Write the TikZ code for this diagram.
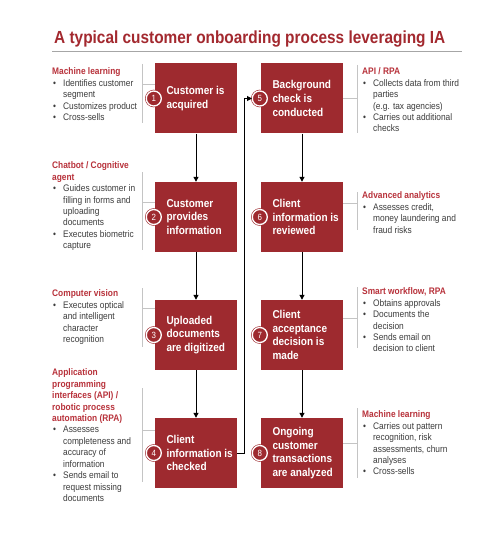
\documentclass[tikz,border=0pt]{standalone}
\usepackage{fontspec}
\setmainfont{Liberation Sans}[FakeStretch=0.88]
\usetikzlibrary{arrows.meta}
\definecolor{boxred}{HTML}{9E2A2F}
\definecolor{titlered}{HTML}{A3292F}
\definecolor{headred}{HTML}{B8323B}
\definecolor{bodygrey}{HTML}{3C3C3C}
\definecolor{linegrey}{HTML}{C4C4C4}
\definecolor{rulegrey}{HTML}{A6A6A6}
\newcommand\hd[1]{\textcolor{headred}{\bfseries #1}}
\newcommand\bl{\makebox[11pt][l]{\hspace{1pt}\textbullet}}
\newcommand\ct{\hspace*{11pt}}
\tikzset{
  stepbox/.style={fill=boxred, draw=none, minimum width=82pt, minimum height=70pt, inner sep=0pt},
  steptext/.style={text=white, font=\fontsize{11.4}{13.6}\selectfont\bfseries, align=left, anchor=west, inner sep=0pt, xshift=11.5pt},
  numdot/.style={circle, fill=boxred, draw=boxred, double=white, double distance=1.3pt, line width=0.6pt, minimum size=15pt, inner sep=0pt, text=white, font=\fontsize{9}{9}\selectfont},
  anno/.style={text=bodygrey, font=\fontsize{9.5}{11.45}\selectfont, align=left, anchor=north west, inner sep=0pt},
  flow/.style={draw=black, line width=1pt, -{Triangle[length=5pt,width=5pt]}},
  tickline/.style={draw=linegrey, line width=1pt}
}
\begin{document}
\begin{tikzpicture}[x=1pt,y=-1pt]
\fill[white] (0,0) rectangle (500,540);
\useasboundingbox (0,0) rectangle (500,540);

% title
\node[anchor=base west, inner sep=0pt, text=titlered, font=\fontsize{17.5}{20}\selectfont\bfseries] (title) at (54,43.3) {A typical customer onboarding process leveraging IA};
\coordinate (ruleL) at (52,51.7);
\coordinate (ruleR) at (462,51.7);
\draw[rulegrey, line width=1.3pt] (ruleL) -- (ruleR);

% boxes
\node[stepbox] (b1) at (196,98.5) {};
\node[stepbox] (b2) at (196,217) {};
\node[stepbox] (b3) at (196,335) {};
\node[stepbox] (b4) at (196,453) {};
\node[stepbox] (b5) at (302,98.5) {};
\node[stepbox] (b6) at (302,217) {};
\node[stepbox] (b7) at (302,335) {};
\node[stepbox] (b8) at (302,453) {};

\node[steptext] (t1) at (b1.west) {Customer is\\acquired};
\node[steptext] (t2) at (b2.west) {Customer\\provides\\information};
\node[steptext] (t3) at (b3.west) {Uploaded\\documents\\are digitized};
\node[steptext] (t4) at (b4.west) {Client\\information is\\checked};
\node[steptext] (t5) at (b5.west) {Background\\check is\\conducted};
\node[steptext] (t6) at (b6.west) {Client\\information is\\reviewed};
\node[steptext] (t7) at (b7.west) {Client\\acceptance\\decision is\\made};
\node[steptext] (t8) at (b8.west) {Ongoing\\customer\\transactions\\are analyzed};

\foreach \i in {1,...,8}{
  \node[numdot] (n\i) at ([xshift=-1pt]b\i.west) {\i};
}

% flow arrows
\draw[flow] (b1) -- (b2);
\draw[flow] (b2) -- (b3);
\draw[flow] (b3) -- (b4);
\draw[flow] (b5) -- (b6);
\draw[flow] (b6) -- (b7);
\draw[flow] (b7) -- (b8);
\coordinate (bend) at (244,98.5);
\draw[flow] (b4.east) -| (bend) -- (n5.west);

% left annotations
\node[anno] (a1) at (52,67.6) {\hd{Machine learning}\\
\bl Identifies customer\\\ct segment\\\bl Customizes product\\\bl Cross-sells};
\node[anno] (a2) at (52,161.6) {\hd{Chatbot / Cognitive}\\\hd{agent}\\
\bl Guides customer in\\\ct filling in forms and\\\ct uploading\\\ct documents\\\bl Executes biometric\\\ct capture};
\node[anno] (a3) at (52,289.6) {\hd{Computer vision}\\
\bl Executes optical\\\ct and intelligent\\\ct character\\\ct recognition};
\node[anno] (a4) at (52,368.6) {\hd{Application}\\\hd{programming}\\\hd{interfaces (API) /}\\\hd{robotic process}\\\hd{automation (RPA)}\\
\bl Assesses\\\ct completeness and\\\ct accuracy of\\\ct information\\\bl Sends email to\\\ct request missing\\\ct documents};

% right annotations
\node[anno] (a5) at (362,67.6) {\hd{API / RPA}\\
\bl Collects data from third\\\ct parties\\\ct (e.g. tax agencies)\\\bl Carries out additional\\\ct checks};
\node[anno] (a6) at (362,191.6) {\hd{Advanced analytics}\\
\bl Assesses credit,\\\ct money laundering and\\\ct fraud risks};
\node[anno] (a7) at (362,287.6) {\hd{Smart workflow, RPA}\\
\bl Obtains approvals\\\bl Documents the\\\ct decision\\\bl Sends email on\\\ct decision to client};
\node[anno] (a8) at (362,410.6) {\hd{Machine learning}\\
\bl Carries out pattern\\\ct recognition, risk\\\ct assessments, churn\\\ct analyses\\\bl Cross-sells};

% annotation brackets (left)
\coordinate (l1a) at (142,64);  \coordinate (l1b) at (142,123); \coordinate (l1t) at (142,85);
\coordinate (l2a) at (142,172); \coordinate (l2b) at (142,250); \coordinate (l2t) at (142,202);
\coordinate (l3a) at (142,288); \coordinate (l3b) at (142,347); \coordinate (l3t) at (142,308);
\coordinate (l4a) at (142,388); \coordinate (l4b) at (142,482); \coordinate (l4t) at (142,430);
\draw[tickline] (l1a) -- (l1b); \draw[tickline] (l1t) -- (b1.west |- l1t);
\draw[tickline] (l2a) -- (l2b); \draw[tickline] (l2t) -- (b2.west |- l2t);
\draw[tickline] (l3a) -- (l3b); \draw[tickline] (l3t) -- (b3.west |- l3t);
\draw[tickline] (l4a) -- (l4b); \draw[tickline] (l4t) -- (b4.west |- l4t);

% annotation brackets (right)
\coordinate (r5a) at (357,65);  \coordinate (r5b) at (357,133); \coordinate (r5t) at (357,98.5);
\coordinate (r6a) at (357,192); \coordinate (r6b) at (357,230); \coordinate (r6t) at (357,203);
\coordinate (r7a) at (357,287); \coordinate (r7b) at (357,348); \coordinate (r7t) at (357,318);
\coordinate (r8a) at (357,408); \coordinate (r8b) at (357,478); \coordinate (r8t) at (357,443);
\draw[tickline] (r5a) -- (r5b); \draw[tickline] (b5.east |- r5t) -- (r5t);
\draw[tickline] (r6a) -- (r6b); \draw[tickline] (b6.east |- r6t) -- (r6t);
\draw[tickline] (r7a) -- (r7b); \draw[tickline] (b7.east |- r7t) -- (r7t);
\draw[tickline] (r8a) -- (r8b); \draw[tickline] (b8.east |- r8t) -- (r8t);
\end{tikzpicture}
\end{document}
